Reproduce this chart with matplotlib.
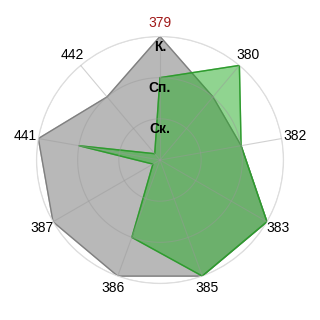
import numpy as np
import matplotlib
matplotlib.use('Agg')
import matplotlib.pyplot as plt

plt.rcParams['font.family'] = ['Liberation Sans', 'DejaVu Sans']

categories = ['379', '380', '382', '383', '385', '386', '387', '441', '442']
grey_values = [3, 2, 2, 3, 3, 3, 3, 3, 2]
green_values = [2, 3, 2, 3, 3, 2, 0.2, 2, 0.2]
level_labels = ['Ск.', 'Сп.', 'К.']
level_values = [1, 2, 3]

n = len(categories)
angles = np.linspace(0, 2 * np.pi, n, endpoint=False)
ang_closed = np.append(angles, angles[0])


def closed(vals):
    return np.append(vals, vals[0])


fig = plt.figure(figsize=(3.2, 3.2), dpi=100)
ax = fig.add_axes([0.114, 0.114, 0.772, 0.772], projection='polar')
ax.set_theta_zero_location('N')
ax.set_theta_direction(-1)
ax.set_ylim(0, 3)

ax.fill(ang_closed, closed(grey_values), color='#b8b8b8', zorder=1)
ax.plot(ang_closed, closed(grey_values), color='#808080', lw=1, zorder=2)
ax.fill(ang_closed, closed(green_values), color='#22aa22', alpha=0.5, zorder=3)
ax.plot(ang_closed, closed(green_values), color='#2f9a2f', lw=1, zorder=4)

# grid on top of the fills
ax.grid(False)
ax.spines['polar'].set_color('#dddddd')
tt = np.linspace(0, 2 * np.pi, 361)
for lv in level_values[:-1]:
    ax.plot(tt, np.full_like(tt, lv), color='#999999', lw=0.8, alpha=0.45, zorder=5)
ax.plot(tt, np.full_like(tt, 3), color='#dddddd', lw=1, zorder=0.5)
for a in angles:
    ax.plot([a, a], [0, 3], color='#999999', lw=0.8, alpha=0.45, zorder=5)

ax.set_xticks(angles)
ax.set_xticklabels(categories, fontsize=10)
ax.tick_params(axis='x', pad=-1)
ax.get_xticklabels()[0].set_color('#a01818')
ax.set_yticks([])

for lab, lv in zip(level_labels, level_values):
    ax.text(0, lv - 0.08, lab, ha='center', va='top', fontsize=10,
            fontweight='bold', color='black', zorder=6)

fig.savefig('out.png', dpi=100)
